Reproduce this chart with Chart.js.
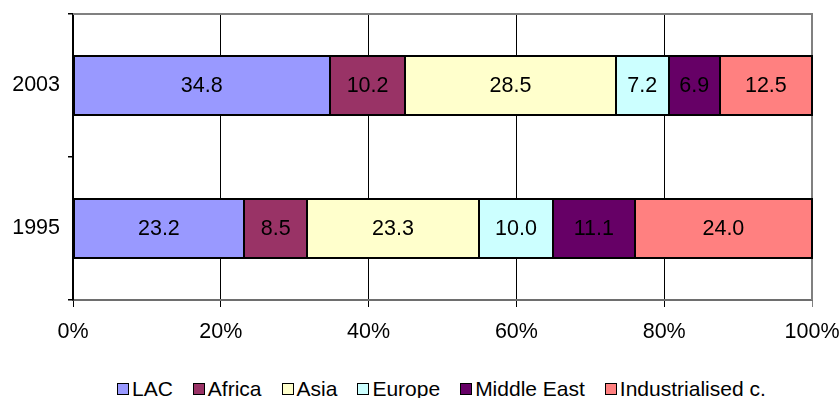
<!DOCTYPE html>
<html>
<head>
<meta charset="utf-8">
<script src="https://cdn.jsdelivr.net/npm/chart.js@4/dist/chart.umd.min.js"></script>
<style>
    html, body { margin: 0; padding: 0; background: #fff; }
    #wrap { position: relative; width: 839px; height: 398px; overflow: hidden; }
    #chartBox { position: absolute; left: 0; top: 0; width: 839px; height: 362px; }
    #legend {
        position: absolute; left: 117px; top: 378px;
        display: flex; align-items: center;
        font-family: 'Liberation Sans', Arial, sans-serif; font-size: 21px; line-height: 21px; color: #000;
        white-space: nowrap;
    }
    .item { display: flex; align-items: center; margin-right: 20px; }
    .swatch { width: 10px; height: 10px; border: 1.5px solid #000; margin-right: 3px; }
</style>
</head>
<body>
<div id="wrap">
    <div id="chartBox"><canvas id="shareChart"></canvas></div>
    <div id="legend"></div>
</div>
<script>
// Regional shares, in percent, for each year
const years = ['2003', '1995'];
const regions = ['LAC', 'Africa', 'Asia', 'Europe', 'Middle East', 'Industrialised c.'];
const regionColors = ['#9999FF', '#993366', '#FFFFCC', '#CCFFFF', '#660066', '#FF8080'];
const lac = [34.8, 23.2];
const africa = [10.2, 8.5];
const asia = [28.5, 23.3];
const europe = [7.2, 10.0];
const middleEast = [6.9, 11.1];
const industrialised = [12.5, 24.0];
const xTicks = [0, 20, 40, 60, 80, 100];

const series = [lac, africa, asia, europe, middleEast, industrialised];
const FONT = "'Liberation Sans', Arial, sans-serif";
const FONT_SIZE = 21.5;

// 100% stacked: each year's segments are scaled by that year's total
const totals = years.map((y, i) => series.reduce((s, arr) => s + arr[i], 0));

const datasets = series.map((arr, d) => ({
    label: regions[d],
    data: arr.map((v, i) => v / totals[i] * 100),
    raw: arr,
    backgroundColor: regionColors[d],
    borderWidth: 0,
    barPercentage: 0.41,
    categoryPercentage: 1
}));

// Gray frame on top and right of the plot area
const plotFrame = {
    id: 'plotFrame',
    beforeDatasetsDraw(chart) {
        const { ctx, chartArea: a } = chart;
        ctx.save();
        ctx.strokeStyle = '#808080';
        ctx.lineWidth = 2;
        ctx.beginPath();
        ctx.moveTo(a.left, a.top);
        ctx.lineTo(a.right, a.top);
        ctx.lineTo(a.right, a.bottom);
        ctx.stroke();
        ctx.restore();
    }
};

// Black outline round each segment, then its raw value in the middle
const segmentLabels = {
    id: 'segmentLabels',
    afterDatasetsDraw(chart) {
        const ctx = chart.ctx;
        ctx.save();
        ctx.strokeStyle = '#000';
        ctx.lineWidth = 2;
        chart.data.datasets.forEach((ds, d) => {
            chart.getDatasetMeta(d).data.forEach(bar => {
                const { x, y, base, height } = bar.getProps(['x', 'y', 'base', 'height']);
                ctx.strokeRect(Math.round(base), Math.round(y - height / 2),
                    Math.round(x) - Math.round(base), Math.round(height));
            });
        });
        ctx.font = FONT_SIZE + 'px ' + FONT;
        ctx.fillStyle = '#000';
        ctx.textAlign = 'center';
        ctx.textBaseline = 'middle';
        chart.data.datasets.forEach((ds, d) => {
            chart.getDatasetMeta(d).data.forEach((bar, i) => {
                const p = bar.getCenterPoint();
                ctx.fillText(ds.raw[i].toFixed(1), p.x, p.y + 1);
            });
        });
        ctx.restore();
    }
};

const chart = new Chart(document.getElementById('shareChart'), {
    type: 'bar',
    data: { labels: years, datasets },
    options: {
        indexAxis: 'y',
        responsive: true,
        maintainAspectRatio: false,
        animation: false,
        layout: { padding: { top: 14, right: 27, left: 0, bottom: 0 } },
        scales: {
            x: {
                stacked: true,
                min: 0,
                max: 100,
                afterBuildTicks(scale) {
                    scale.ticks = xTicks.map(v => ({ value: v }));
                },
                afterFit(scale) {
                    scale.height = 62;
                    scale.paddingLeft = 0;
                    scale.paddingRight = 0;
                },
                ticks: {
                    color: '#000',
                    font: { family: FONT, size: FONT_SIZE },
                    padding: 12,
                    maxRotation: 0,
                    callback: v => v + '%'
                },
                grid: {
                    color: c => (c.tick && c.tick.value === 100) ? '#808080' : '#000',
                    lineWidth: 1,
                    tickLength: 7
                },
                border: { color: '#6e6e6e', width: 2 }
            },
            y: {
                stacked: true,
                afterFit(scale) {
                    scale.width = 73;
                    scale.paddingTop = 0;
                    scale.paddingBottom = 0;
                },
                ticks: {
                    color: '#000',
                    font: { family: FONT, size: FONT_SIZE },
                    padding: 8
                },
                grid: {
                    drawOnChartArea: false,
                    color: '#000',
                    lineWidth: 1.5,
                    tickLength: 5
                },
                border: { color: '#000', width: 2 }
            }
        },
        plugins: {
            legend: { display: false },
            tooltip: { enabled: false }
        }
    },
    plugins: [plotFrame, segmentLabels]
});

// Legend built from the datasets
const legendEl = document.getElementById('legend');
chart.data.datasets.forEach(ds => {
    const item = document.createElement('div');
    item.className = 'item';
    const sw = document.createElement('span');
    sw.className = 'swatch';
    sw.style.background = ds.backgroundColor;
    const txt = document.createElement('span');
    txt.textContent = ds.label;
    item.appendChild(sw);
    item.appendChild(txt);
    legendEl.appendChild(item);
});
</script>
</body>
</html>
